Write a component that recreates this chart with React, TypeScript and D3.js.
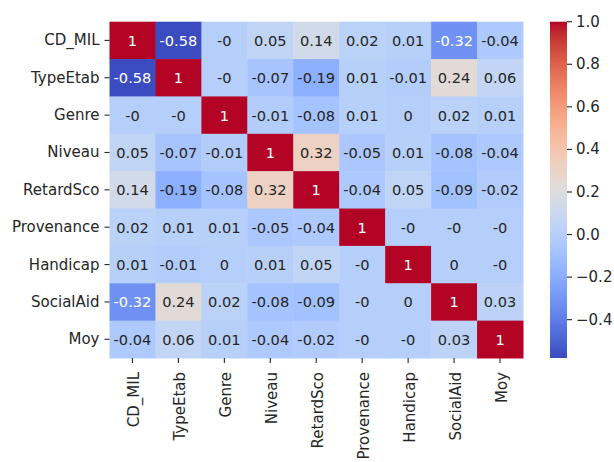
import React from "react";
import * as d3 from "d3";

const variables = ["CD_MIL", "TypeEtab", "Genre", "Niveau", "RetardSco", "Provenance", "Handicap", "SocialAid", "Moy"];

const rowCD_MIL = [1, -0.58, -0, 0.05, 0.14, 0.02, 0.01, -0.32, -0.04];
const rowTypeEtab = [-0.58, 1, -0, -0.07, -0.19, 0.01, -0.01, 0.24, 0.06];
const rowGenre = [-0, -0, 1, -0.01, -0.08, 0.01, 0, 0.02, 0.01];
const rowNiveau = [0.05, -0.07, -0.01, 1, 0.32, -0.05, 0.01, -0.08, -0.04];
const rowRetardSco = [0.14, -0.19, -0.08, 0.32, 1, -0.04, 0.05, -0.09, -0.02];
const rowProvenance = [0.02, 0.01, 0.01, -0.05, -0.04, 1, -0, -0, -0];
const rowHandicap = [0.01, -0.01, 0, 0.01, 0.05, -0, 1, 0, -0];
const rowSocialAid = [-0.32, 0.24, 0.02, -0.08, -0.09, -0, 0, 1, 0.03];
const rowMoy = [-0.04, 0.06, 0.01, -0.04, -0.02, -0, -0, 0.03, 1];

const matrix = [rowCD_MIL, rowTypeEtab, rowGenre, rowNiveau, rowRetardSco, rowProvenance, rowHandicap, rowSocialAid, rowMoy];

const colorbarTicks = [-0.4, -0.2, 0.0, 0.2, 0.4, 0.6, 0.8, 1.0];
const vmin = -0.58;
const vmax = 1.0;

// matplotlib coolwarm control points
const coolwarm: [number, number, number][] = [
  [59, 76, 192], [68, 90, 204], [77, 104, 215], [87, 117, 225], [98, 130, 234],
  [108, 142, 241], [119, 154, 247], [130, 165, 251], [141, 176, 254], [152, 185, 255],
  [163, 194, 255], [174, 201, 253], [184, 208, 249], [194, 213, 244], [204, 217, 238],
  [213, 219, 230], [221, 221, 221], [229, 216, 209], [236, 211, 197], [241, 204, 184],
  [245, 196, 172], [247, 187, 159], [247, 177, 147], [247, 166, 134], [244, 154, 123],
  [241, 141, 111], [236, 127, 99], [229, 112, 88], [222, 96, 77], [213, 80, 66],
  [203, 62, 56], [192, 40, 47], [180, 4, 38],
];

function cmapRGB(t: number): [number, number, number] {
  const tt = Math.max(0, Math.min(1, t)) * (coolwarm.length - 1);
  const i = Math.min(coolwarm.length - 2, Math.floor(tt));
  const f = tt - i;
  const a = coolwarm[i], b = coolwarm[i + 1];
  return [a[0] + (b[0] - a[0]) * f, a[1] + (b[1] - a[1]) * f, a[2] + (b[2] - a[2]) * f];
}
function rgbStr(c: [number, number, number]) {
  return `rgb(${Math.round(c[0])},${Math.round(c[1])},${Math.round(c[2])})`;
}
function luminance(c: [number, number, number]) {
  const lin = c.map((v) => {
    const s = v / 255;
    return s <= 0.03928 ? s / 12.92 : Math.pow((s + 0.055) / 1.055, 2.4);
  });
  return 0.2126 * lin[0] + 0.7152 * lin[1] + 0.0722 * lin[2];
}
function fmt(v: number) {
  if (Object.is(v, -0)) return "-0";
  return String(v);
}

const W = 614, H = 462;
const left = 109.5, right = 523, top = 21.7, bottom = 358;
const cbX = 550, cbW = 17;
const FONT = "DejaVu Sans, sans-serif";
const FS = 14.6;
const LFS = 15;

export default function App() {
  const x = d3.scaleBand<string>().domain(variables).range([left, right]).padding(0);
  const y = d3.scaleBand<string>().domain(variables).range([top, bottom]).padding(0);
  const norm = d3.scaleLinear().domain([vmin, vmax]).range([0, 1]);
  const cbY = d3.scaleLinear().domain([vmin, vmax]).range([bottom, top]);
  const stops = d3.range(0, 33).map((i) => i / 32);

  return (
    <svg width={W} height={H} style={{ position: "absolute", left: 0, top: 0, background: "#fff" }} fontFamily={FONT}>
      <defs>
        <linearGradient id="cb" x1="0" y1="1" x2="0" y2="0">
          {stops.map((s) => (
            <stop key={s} offset={s} stopColor={rgbStr(cmapRGB(s))} />
          ))}
        </linearGradient>
      </defs>
      <rect width={W} height={H} fill="#fff" />
      {matrix.map((row, ri) =>
        row.map((v, ci) => {
          const c = cmapRGB(norm(v));
          const xx = x(variables[ci])!;
          const yy = y(variables[ri])!;
          return (
            <g key={`${ri}-${ci}`}>
              <rect x={xx} y={yy} width={x.bandwidth() + 0.5} height={y.bandwidth() + 0.5} fill={rgbStr(c)} />
              <text
                x={xx + x.bandwidth() / 2}
                y={yy + y.bandwidth() / 2}
                textAnchor="middle"
                dominantBaseline="central"
                fontSize={FS}
                fill={luminance(c) > 0.408 ? "#262626" : "#ffffff"}
              >
                {fmt(v)}
              </text>
            </g>
          );
        })
      )}
      {variables.map((name) => {
        const cy = y(name)! + y.bandwidth() / 2;
        return (
          <g key={`yl-${name}`}>
            <line x1={left - 5} x2={left} y1={cy} y2={cy} stroke="#262626" strokeWidth={1.1} />
            <text x={left - 10} y={cy} textAnchor="end" dominantBaseline="central" fontSize={LFS} fill="#262626">
              {name}
            </text>
          </g>
        );
      })}
      {variables.map((name) => {
        const cx = x(name)! + x.bandwidth() / 2;
        return (
          <g key={`xl-${name}`}>
            <line x1={cx} x2={cx} y1={bottom} y2={bottom + 5} stroke="#262626" strokeWidth={1.1} />
            <text
              transform={`translate(${cx + 1.5},${bottom + 14}) rotate(-90)`}
              textAnchor="end"
              dominantBaseline="central"
              fontSize={LFS}
              fill="#262626"
            >
              {name}
            </text>
          </g>
        );
      })}
      <rect x={cbX} y={top} width={cbW} height={bottom - top} fill="url(#cb)" />
      {colorbarTicks.map((t) => {
        const ty = cbY(t);
        return (
          <g key={`cb-${t}`}>
            <line x1={cbX + cbW} x2={cbX + cbW + 5} y1={ty} y2={ty} stroke="#262626" strokeWidth={1.1} />
            <text x={cbX + cbW + 9} y={ty} dominantBaseline="central" fontSize={LFS} fill="#262626">
              {t < 0 ? "\u2212" + Math.abs(t).toFixed(1) : t.toFixed(1)}
            </text>
          </g>
        );
      })}
    </svg>
  );
}
